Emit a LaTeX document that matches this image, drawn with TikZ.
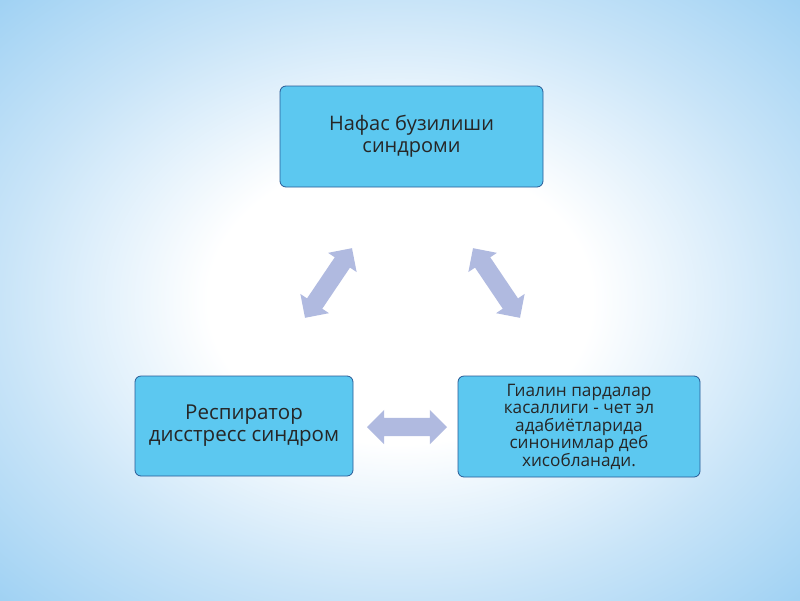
\documentclass[tikz,border=0pt]{standalone}
\usepackage{fontspec}
\setmainfont{Open Sans}
\usetikzlibrary{shapes.arrows}
\definecolor{boxfill}{RGB}{92,200,240}
\definecolor{boxline}{RGB}{40,90,150}
\definecolor{arr}{RGB}{176,186,224}
\pgfdeclareradialshading{bg}{\pgfpoint{0bp}{0bp}}{color(0bp)=(white); color(12bp)=(white); color(25bp)=(rgb,255:red,200;green,228;blue,248); color(38bp)=(rgb,255:red,150;green,205;blue,242); color(50bp)=(rgb,255:red,140;green,200;blue,240)}
\begin{document}
\begin{tikzpicture}[x=1pt,y=-1pt,
 box/.style={draw=boxline,line width=0.8pt,fill=boxfill,rounded corners=6pt,align=center,text=black!85,inner sep=0pt},
 darr/.style={double arrow,fill=arr,draw=none,minimum height=#1,inner xsep=0pt,inner ysep=9pt,double arrow head extend=8pt}]
\useasboundingbox (0,0) rectangle (800,600);
\shade[shading=bg] (0,0) rectangle (800,600);
\node[box,minimum width=263pt,minimum height=101pt,font=\fontsize{20}{22}\selectfont] (top) at (411.5,136.5) {Нафас бузилиши\\синдроми};
\node[box,minimum width=218pt,minimum height=100pt,font=\fontsize{20.5}{22}\selectfont] (left) at (244,426) {Респиратор\\дисстресс синдром};
\node[box,minimum width=242pt,minimum height=101pt,font=\fontsize{17.2}{17.5}\selectfont] (right) at (579,426.5) {Гиалин пардалар\\касаллиги - чет эл\\адабиётларида\\синонимлар деб\\хисобланади.};
\node[darr=84pt,rotate=56] (a1) at (328.5,283) {};
\node[darr=84pt,rotate=-56] (a2) at (496.5,283) {};
\node[darr=80pt] (a3) at (407,427) {};
\end{tikzpicture}
\end{document}
